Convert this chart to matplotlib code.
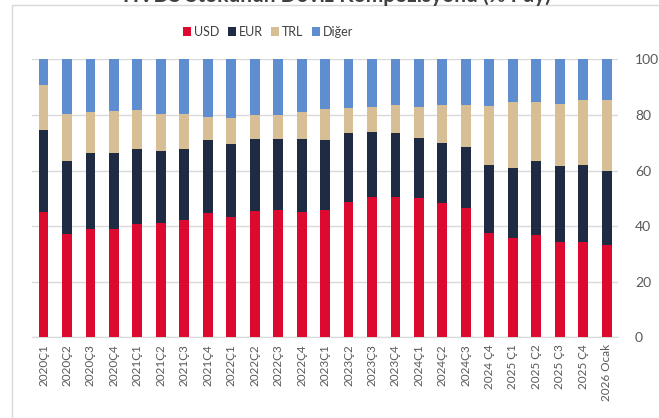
import matplotlib
matplotlib.use("Agg")
import matplotlib.pyplot as plt
from matplotlib.patches import Rectangle, Patch
import numpy as np

plt.rcParams['font.family'] = ['Lato', 'DejaVu Sans']

periods = ["2020Ç1", "2020Ç2", "2020Ç3", "2020Ç4",
           "2021Ç1", "2021Ç2", "2021Ç3", "2021Ç4",
           "2022Ç1", "2022Ç2", "2022Ç3", "2022Ç4",
           "2023Ç1", "2023Ç2", "2023Ç3", "2023Ç4",
           "2024Ç1", "2024Ç2", "2024Ç3", "2024 Ç4",
           "2025 Ç1", "2025 Ç2", "2025 Ç3", "2025 Ç4", "2026 Ocak"]

usd = [45.0, 37.2, 39.1, 39.1, 40.6, 41.2, 42.2, 44.6, 43.2, 45.5, 45.8, 45.2, 45.8,
       48.8, 50.6, 50.6, 50.2, 48.2, 46.4, 37.6, 35.6, 36.8, 34.4, 34.4, 33.2]
eur = [29.6, 26.3, 27.1, 27.1, 27.0, 25.8, 25.5, 26.4, 26.2, 25.7, 25.4, 26.0, 25.2,
       24.6, 23.1, 22.8, 21.6, 21.6, 22.2, 24.4, 25.2, 26.7, 27.2, 27.6, 26.7]
trl = [16.2, 16.7, 14.7, 15.3, 14.2, 13.2, 12.6, 8.1, 9.4, 8.8, 8.7, 9.8, 11.1,
       9.2, 9.3, 10.2, 11.2, 13.8, 15.0, 21.2, 23.7, 21.0, 22.3, 23.4, 25.5]
diger = [9.2, 19.8, 19.1, 18.5, 18.2, 19.8, 19.7, 20.9, 21.2, 20.0, 20.1, 19.0, 17.9,
         17.4, 17.0, 16.4, 17.0, 16.4, 16.4, 16.8, 15.5, 15.5, 16.1, 14.6, 14.6]

series_names = ["USD", "EUR", "TRL", "Diğer"]
colors = ["#DC0A2E", "#1E2B42", "#D8BE94", "#5E8ECF"]
title = "HVDS Stokunun Döviz Kompozisyonu (% Pay)"

fig = plt.figure(figsize=(6.59, 4.18), dpi=100)
ax = fig.add_axes([0.0483, 0.193, 0.89, 0.665])

x = np.arange(len(periods))
bottom = np.zeros(len(periods))
for vals, col in zip([usd, eur, trl, diger], colors):
    ax.bar(x, vals, width=0.42, bottom=bottom, color=col, zorder=3)
    bottom += np.array(vals)

ax.set_xlim(-0.5, len(periods) - 0.5)
ax.set_ylim(0, 100)
ax.set_yticks(range(0, 101, 20))
ax.yaxis.tick_right()
ax.grid(axis='y', color='#D9D9D9', linewidth=1.0, zorder=0)
for s in ['top', 'left', 'right']:
    ax.spines[s].set_visible(False)
ax.spines['bottom'].set_color('#D9D9D9')
ax.tick_params(axis='y', length=0, pad=12, labelsize=10, labelcolor='#595959')
ax.tick_params(axis='x', length=0, pad=5, labelsize=8.5, labelcolor='#595959')
ax.set_xticks(x)
ax.set_xticklabels(periods, rotation=90)

handles = [Patch(facecolor=c, edgecolor='none') for c in colors]
fig.legend(handles, series_names, loc='center', bbox_to_anchor=(0.407, 0.923),
           ncol=4, frameon=False, fontsize=9, handlelength=0.6, handleheight=0.7,
           handletextpad=0.25, columnspacing=0.7, labelcolor='#404040')

# chart frame
fig.patches.append(Rectangle((12 / 659, -0.05), 1.2, 0.05 + (1 - 5 / 418),
                             transform=fig.transFigure, fill=False,
                             edgecolor='#D9D9D9', linewidth=1.0))

fig.text(0.512, 1 - 1.5 / 418, title, ha='center', va='baseline',
         fontsize=15, fontweight='bold', color='#404040')

fig.savefig("out.png", dpi=100)
